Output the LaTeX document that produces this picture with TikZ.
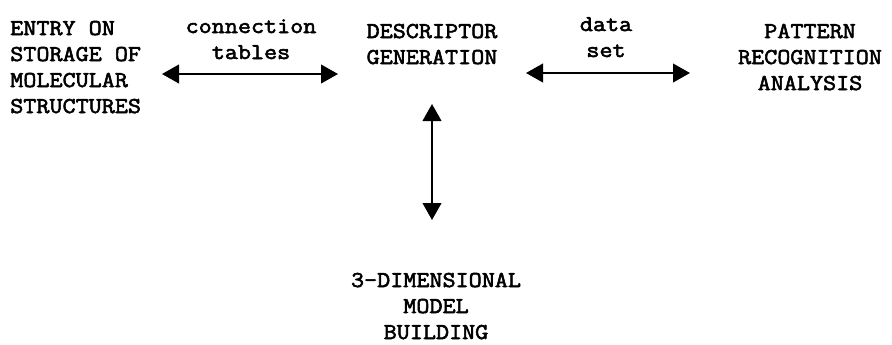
\documentclass[tikz,border=0pt]{standalone}
\usepackage{fontspec}
\setmonofont[FakeStretch=1.12, FakeBold=2.5]{Latin Modern Mono}
\usetikzlibrary{arrows.meta}
\usetikzlibrary{positioning}

\begin{document}
\begin{tikzpicture}[x=0.75pt, y=-0.75pt,
		txt/.style={inner sep=0pt, anchor=base, align=center, font=\ttfamily\fontsize{17}{19.5}\selectfont},
		link/.style={{Triangle[length=12.75pt, width=14pt]}-{Triangle[length=12.75pt, width=14pt]}, line width=1.5pt}]
				\useasboundingbox (0,0) rectangle (892,344);
				% blocks (placed by the baseline of their last line)
				\node[txt, anchor=base west, align=left] (entry) at (10, 113) {ENTRY ON\\STORAGE OF\\MOLECULAR\\STRUCTURES};
				\node[txt] (desc) at (432, 64) {DESCRIPTOR\\GENERATION};
				\node[txt] (pattern) at (810, 90) {PATTERN\\RECOGNITION\\ANALYSIS};
				\node[txt] (model) at (436, 339) {3-DIMENSIONAL\\MODEL\\BUILDING};
				% labels on the links
				\node[txt] (conn) at (251, 59) {connection\\tables};
				\node[txt] (dset) at (606, 57) {data\\set};
				% link ends
				\coordinate (e1) at (162, 74);
				\coordinate (d1) at (338, 74);
				\coordinate (d2) at (526, 73);
				\coordinate (p1) at (690, 73);
				\coordinate (d3) at (432, 104);
				\coordinate (m1) at (432, 220);
				\draw[link] (e1) to (d1);
				\draw[link] (d2) to (p1);
				\draw[link] (d3) to (m1);
			\end{tikzpicture}
\end{document}
